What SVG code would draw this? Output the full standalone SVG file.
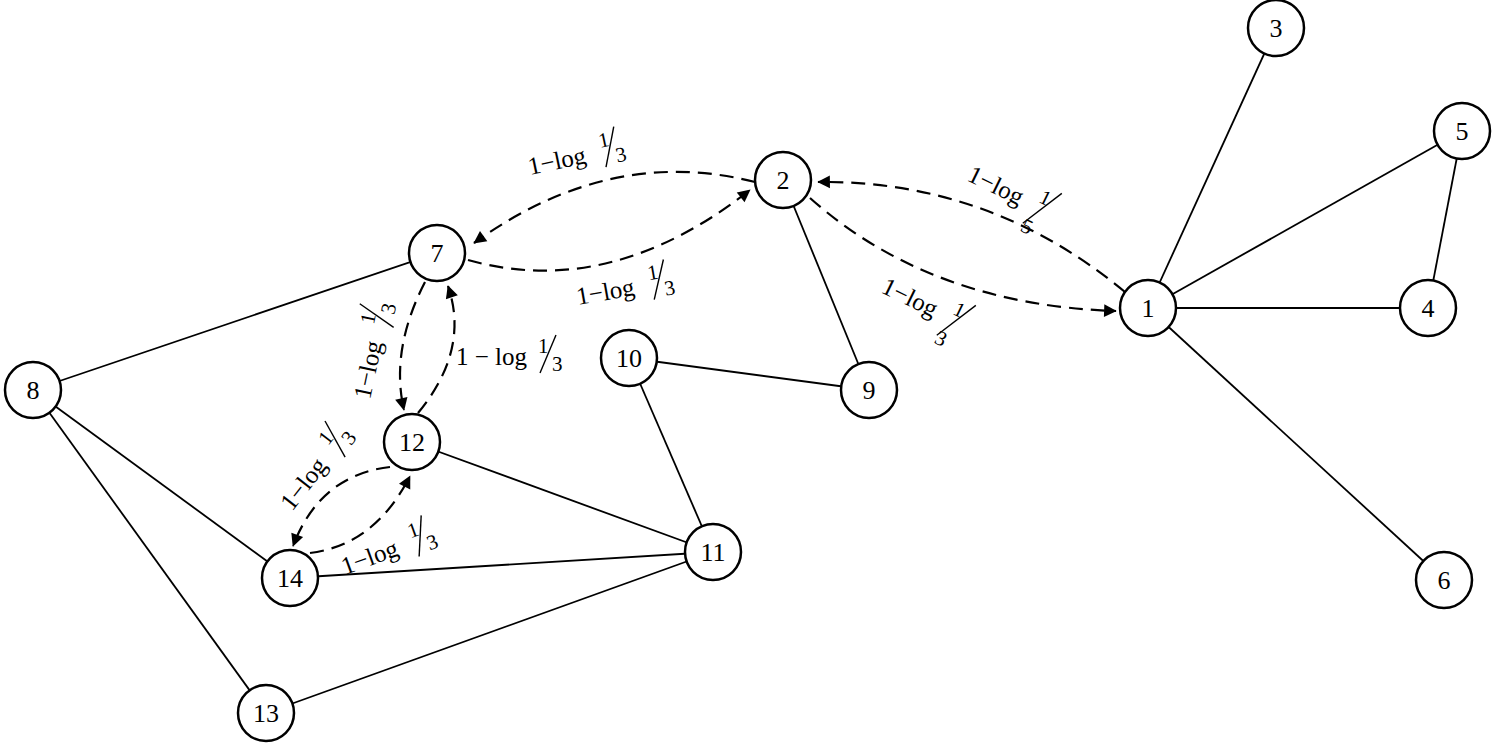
<svg xmlns="http://www.w3.org/2000/svg" width="1496" height="748" viewBox="0 0 1496 748">
<style>
.n circle{fill:#fff;stroke:#000;stroke-width:2.5}
.n text{font-family:"Liberation Serif",serif;font-size:26px;text-anchor:middle}
.e line{stroke:#000;stroke-width:1.8}
.d path{fill:none;stroke:#000;stroke-width:2.2;stroke-dasharray:14 8;marker-end:url(#a)}
.l text{font-family:"Liberation Serif",serif;font-size:25px}
.l text.s{font-size:21px}
.l line{stroke:#000;stroke-width:1.4}
</style>
<defs><marker id="a" viewBox="0 0 10 10" refX="9" refY="5" markerWidth="7" markerHeight="7" markerUnits="userSpaceOnUse" orient="auto" style="overflow:visible"><path d="M0,0L10,5L0,10z" transform="scale(1.8)" transform-origin="10 5"/></marker></defs>
<g id="edges" class="e">
<line x1="1148" y1="308" x2="1276" y2="28"/><line x1="1148" y1="308" x2="1462" y2="131"/><line x1="1148" y1="308" x2="1428" y2="308"/><line x1="1148" y1="308" x2="1444" y2="580"/><line x1="1462" y1="131" x2="1428" y2="308"/><line x1="783" y1="180" x2="869" y2="390"/><line x1="629" y1="358" x2="869" y2="390"/><line x1="629" y1="358" x2="713" y2="552"/><line x1="437" y1="253" x2="33" y2="390"/><line x1="33" y1="390" x2="290" y2="578"/><line x1="33" y1="390" x2="266" y2="713"/><line x1="412" y1="442" x2="713" y2="552"/><line x1="290" y1="578" x2="713" y2="552"/><line x1="266" y1="713" x2="713" y2="552"/>
</g>
<g id="connectors" class="d">
<path d="M755,182 Q610,145 474,243"/>
<path d="M468,260 Q610,300 750,190"/>
<path d="M1125,292 Q990,180 818,182"/>
<path d="M810,198 Q930,305 1116,311"/>
<path d="M425,282 Q390,350 404,410"/>
<path d="M418,413 Q470,350 448,286"/>
<path d="M390,467 Q320,475 293,546"/>
<path d="M310,553 Q375,545 410,476"/>
</g>
<g class="l">
<g transform="translate(530,175) rotate(-12)"><text>1−log</text><text class="s" x="74" y="-12">1</text><line x1="76" y1="8" x2="92" y2="-30"/><text class="s" x="88" y="6">3</text></g>
<g transform="translate(578,305) rotate(-10)"><text>1−log</text><text class="s" x="74" y="-12">1</text><line x1="76" y1="8" x2="92" y2="-30"/><text class="s" x="88" y="6">3</text></g>
<g transform="translate(966,180) rotate(26)"><text>1−log</text><text class="s" x="74" y="-12">1</text><line x1="70" y1="14" x2="92" y2="-30"/><text class="s" x="70" y="22">5</text></g>
<g transform="translate(880,292) rotate(26)"><text>1−log</text><text class="s" x="74" y="-12">1</text><line x1="70" y1="14" x2="92" y2="-30"/><text class="s" x="70" y="22">3</text></g>
<g transform="translate(370,400) rotate(-78)"><text>1−log</text><text class="s" x="74" y="-12">1</text><line x1="76" y1="8" x2="92" y2="-30"/><text class="s" x="88" y="6">3</text></g>
<g transform="translate(456,365)"><text>1 − log</text><text class="s" x="82" y="-12">1</text><line x1="84" y1="8" x2="100" y2="-30"/><text class="s" x="96" y="6">3</text></g>
<g transform="translate(292,512) rotate(-52)"><text>1−log</text><text class="s" x="74" y="-12">1</text><line x1="76" y1="8" x2="92" y2="-30"/><text class="s" x="88" y="6">3</text></g>
<g transform="translate(345,575) rotate(-20)"><text>1−log</text><text class="s" x="74" y="-12">1</text><line x1="76" y1="8" x2="92" y2="-30"/><text class="s" x="88" y="6">3</text></g>
</g>
<g id="n1" class="n"><circle cx="1148" cy="308" r="28"/><text x="1148" y="317">1</text></g>
<g id="n2" class="n"><circle cx="783" cy="180" r="28"/><text x="783" y="189">2</text></g>
<g id="n3" class="n"><circle cx="1276" cy="28" r="28"/><text x="1276" y="37">3</text></g>
<g id="n4" class="n"><circle cx="1428" cy="308" r="28"/><text x="1428" y="317">4</text></g>
<g id="n5" class="n"><circle cx="1462" cy="131" r="28"/><text x="1462" y="140">5</text></g>
<g id="n6" class="n"><circle cx="1444" cy="580" r="28"/><text x="1444" y="589">6</text></g>
<g id="n7" class="n"><circle cx="437" cy="253" r="28"/><text x="437" y="262">7</text></g>
<g id="n8" class="n"><circle cx="33" cy="390" r="28"/><text x="33" y="399">8</text></g>
<g id="n9" class="n"><circle cx="869" cy="390" r="28"/><text x="869" y="399">9</text></g>
<g id="n10" class="n"><circle cx="629" cy="358" r="28"/><text x="629" y="367">10</text></g>
<g id="n11" class="n"><circle cx="713" cy="552" r="28"/><text x="713" y="561">11</text></g>
<g id="n12" class="n"><circle cx="412" cy="442" r="28"/><text x="412" y="451">12</text></g>
<g id="n13" class="n"><circle cx="266" cy="713" r="28"/><text x="266" y="722">13</text></g>
<g id="n14" class="n"><circle cx="290" cy="578" r="28"/><text x="290" y="587">14</text></g>
</svg>
